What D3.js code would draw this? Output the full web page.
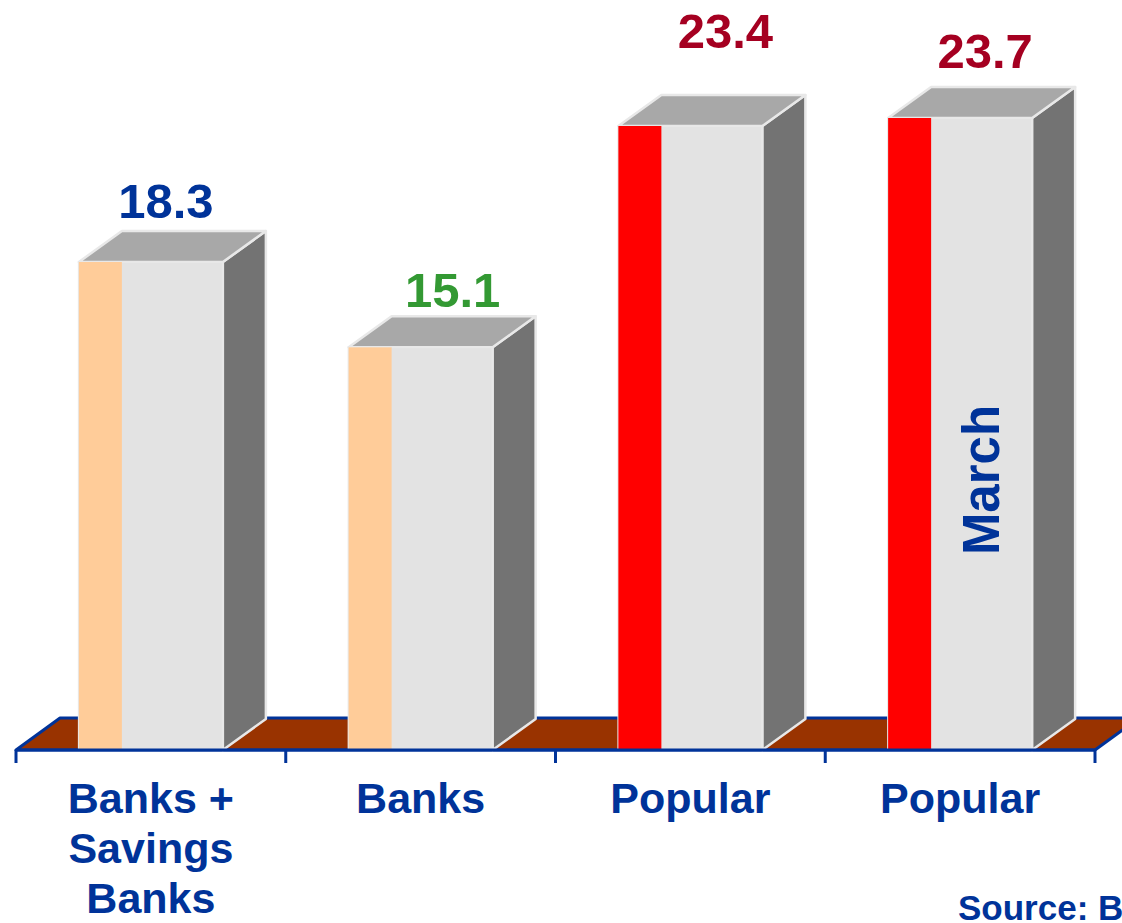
<!DOCTYPE html>
<html>
<head>
<meta charset="utf-8">
<script src="https://cdn.jsdelivr.net/npm/d3@7"></script>
<style>
  body { margin: 0; background: #fff; }
  text { font-family: Arial, "Liberation Sans", sans-serif; font-weight: bold; }
</style>
</head>
<body>
<svg width="1122" height="923"></svg>
<script>
//data
const categories = ["Banks + Savings Banks", "Banks", "Popular", "Popular"];
const labelLines = [["Banks +", "Savings", "Banks"], ["Banks"], ["Popular"], ["Popular"]];
const values = [18.3, 15.1, 23.4, 23.7];
const valueColors = ["#003399", "#339933", "#A50021", "#A50021"];
const stripColors = ["#FFCC99", "#FFCC99", "#FF0000", "#FF0000"];

//layout nudges for value labels (px)
const labelNudgeX = [-12, 5, 8, -2];
const labelNudgeY = [2, 6, -32, -4];

//constants
const floorY = 750;
const depthX = 43, depthY = -31;
const barWidth = 144, stripWidth = 43;
const blue = "#003399";

const svg = d3.select("svg");

//scales
const x = d3.scaleBand()
    .domain(d3.range(categories.length))
    .range([16, 1095])
    .paddingInner(0);

const y = d3.scaleLinear()
    .domain([0, 28.125])
    .range([floorY, 0]);

const barX = i => x(i) + (x.bandwidth() - barWidth) / 2;

//floor
const floor = svg.append("g").attr("class", "floor");
const [fx0, fx1] = x.range();
floor.append("path")
    .attr("d", d3.line()([[fx0, floorY], [fx1, floorY], [fx1 + depthX + 1, floorY + depthY - 1], [fx0 + depthX + 1, floorY + depthY - 1]]) + "Z")
    .attr("fill", "#993300")
    .attr("stroke", blue)
    .attr("stroke-width", 3)
    .attr("stroke-linejoin", "round");

//bars
const bars = svg.append("g").attr("class", "bars")
    .selectAll(".bar")
    .data(values)
    .enter()
    .append("g")
    .attr("class", "bar");

const edge = "#E8E8E8";

// side face
bars.append("path")
    .attr("d", (d, i) => {
        const x1 = barX(i) + barWidth;
        return d3.line()([[x1, y(d)], [x1 + depthX, y(d) + depthY], [x1 + depthX, floorY + depthY], [x1, floorY]]) + "Z";
    })
    .attr("fill", "#737373")
    .attr("stroke", edge)
    .attr("stroke-width", 2.5)
    .attr("stroke-linejoin", "round");

// top face
bars.append("path")
    .attr("d", (d, i) => {
        const x0 = barX(i);
        return d3.line()([[x0, y(d)], [x0 + depthX, y(d) + depthY], [x0 + barWidth + depthX, y(d) + depthY], [x0 + barWidth, y(d)]]) + "Z";
    })
    .attr("fill", "#A8A8A8")
    .attr("stroke", edge)
    .attr("stroke-width", 2.5)
    .attr("stroke-linejoin", "round");

// front face
bars.append("rect")
    .attr("x", (d, i) => barX(i))
    .attr("y", d => y(d))
    .attr("width", barWidth)
    .attr("height", d => floorY - y(d))
    .attr("fill", "#E3E3E3")
    .attr("stroke", edge)
    .attr("stroke-width", 2);

// coloured strip
bars.append("rect")
    .attr("x", (d, i) => barX(i))
    .attr("y", d => y(d))
    .attr("width", stripWidth)
    .attr("height", d => floorY - y(d))
    .attr("fill", (d, i) => stripColors[i]);

//front edge of the floor + ticks
svg.append("line")
    .attr("x1", fx0).attr("x2", fx1)
    .attr("y1", floorY).attr("y2", floorY)
    .attr("stroke", blue)
    .attr("stroke-width", 3);

const boundaries = x.domain().map(i => x(i)).concat([fx1]);
svg.append("g")
    .selectAll("line")
    .data(boundaries)
    .enter()
    .append("line")
    .attr("x1", d => d).attr("x2", d => d)
    .attr("y1", floorY).attr("y2", floorY + 13)
    .attr("stroke", blue)
    .attr("stroke-width", 3);

//value labels
svg.append("g")
    .selectAll("text")
    .data(values)
    .enter()
    .append("text")
    .attr("x", (d, i) => barX(i) + barWidth / 2 + 27 + labelNudgeX[i])
    .attr("y", (d, i) => y(d) - 46 + labelNudgeY[i])
    .attr("text-anchor", "middle")
    .style("font-size", "49px")
    .attr("fill", (d, i) => valueColors[i])
    .text(d => d.toFixed(1));

//category labels
const cat = svg.append("g")
    .selectAll("text")
    .data(labelLines)
    .enter()
    .append("text")
    .attr("text-anchor", "middle")
    .style("font-size", "43px")
    .attr("fill", blue);

cat.selectAll("tspan")
    .data((d, i) => d.map(t => ({t, i})))
    .enter()
    .append("tspan")
    .attr("x", d => x(d.i) + x.bandwidth() / 2)
    .attr("y", (d, j) => 813 + j * 50)
    .text(d => d.t);

//annotation on last bar
const last = values.length - 1;
svg.append("text")
    .attr("transform", "translate(" + (barX(last) + 111) + "," + 480 + ") rotate(-90)")
    .attr("text-anchor", "middle")
    .style("font-size", "51px")
    .attr("fill", blue)
    .text("March");

//source (cut by the right edge, as in the original)
svg.append("text")
    .attr("x", 958)
    .attr("y", 920)
    .style("font-size", "35px")
    .attr("fill", blue)
    .text("Source: Bank of Spain");
</script>
</body>
</html>
